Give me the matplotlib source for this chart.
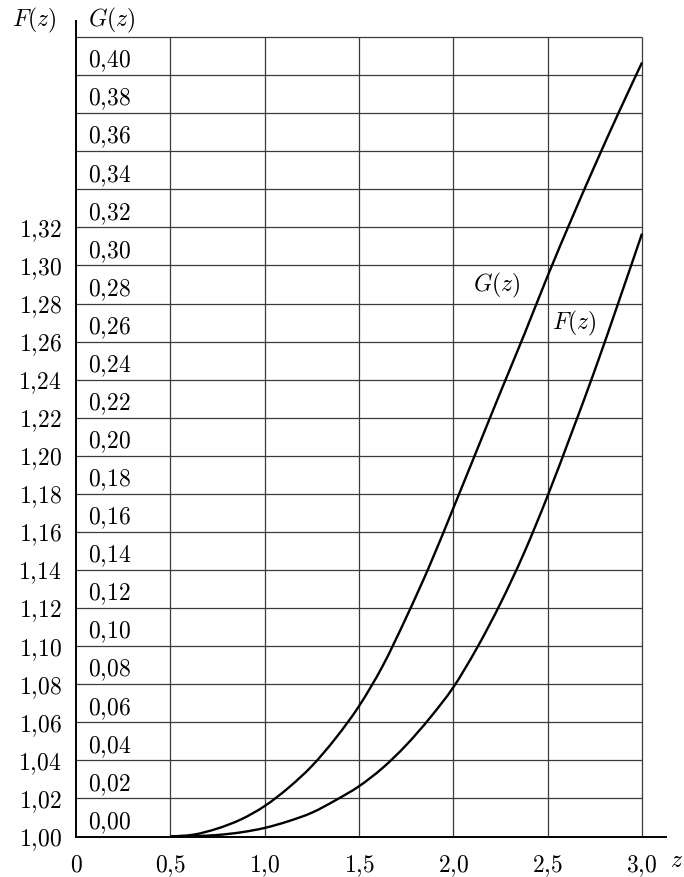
import matplotlib
matplotlib.use("Agg")
import matplotlib.pyplot as plt
from matplotlib.path import Path
from matplotlib.patches import PathPatch

plt.rcParams['mathtext.fontset'] = 'cm'
plt.rcParams['font.family'] = ['DejaVu Serif']

# ---- data ----
g_z = [0.5, 0.625, 0.75, 0.875, 1.0, 1.125, 1.25, 1.375, 1.5, 1.625, 1.75, 1.875,
       2.0, 2.125, 2.25, 2.375, 2.5, 2.625, 2.75, 2.875, 3.0]
g_val = [0.0, 0.001, 0.0042, 0.009, 0.016, 0.0255, 0.037, 0.0515, 0.0685, 0.0895,
         0.115, 0.1425, 0.1725, 0.2030, 0.2335, 0.2635, 0.2945, 0.324, 0.3525,
         0.380, 0.4066]

f_z = [0.5, 0.625, 0.75, 0.875, 1.0, 1.125, 1.25, 1.375, 1.5, 1.625, 1.75, 1.875,
       2.0, 2.125, 2.25, 2.375, 2.5, 2.625, 2.75, 2.875, 3.0]
f_val = [1.0, 1.0002, 1.0008, 1.0022, 1.0045, 1.008, 1.0125, 1.019, 1.0264, 1.036,
         1.048, 1.0622, 1.0784, 1.099, 1.1225, 1.149, 1.179, 1.2115, 1.245, 1.2805,
         1.3167]

z_ticks = [0, 0.5, 1.0, 1.5, 2.0, 2.5, 3.0]
z_labels = ['0', '0,5', '1,0', '1,5', '2,0', '2,5', '3,0']
g_ticks = [round(0.02 * i, 2) for i in range(21)]
g_labels = ['0,%02d' % int(round(v * 100)) for v in g_ticks]
f_ticks = [round(1.0 + 0.02 * i, 2) for i in range(17)]
f_labels = ['1,%02d' % int(round((v - 1) * 100)) for v in f_ticks]
grid_top = 0.42


def smooth_path(xs, ys):
    """Cubic Bezier path through the given points (Catmull-Rom tangents)."""
    pts = list(zip(xs, ys))
    n = len(pts)
    verts = [pts[0]]
    codes = [Path.MOVETO]
    for i in range(n - 1):
        p0 = pts[i - 1] if i > 0 else pts[i]
        p1 = pts[i]
        p2 = pts[i + 1]
        p3 = pts[i + 2] if i + 2 < n else pts[i + 1]
        c1 = (p1[0] + (p2[0] - p0[0]) / 6, p1[1] + (p2[1] - p0[1]) / 6)
        c2 = (p2[0] - (p3[0] - p1[0]) / 6, p2[1] - (p3[1] - p1[1]) / 6)
        verts += [c1, c2, p2]
        codes += [Path.CURVE4] * 3
    return Path(verts, codes)


# ---- figure ----
W, H = 684, 878
fig = plt.figure(figsize=(W / 100, H / 100), dpi=100)
x0, x1 = 76, 666
y0, y1 = 837.5, 22
ax = fig.add_axes([x0 / W, (H - y0) / H, (x1 - x0) / W, (y0 - y1) / H])
px_per_z = (642 - 76) / 3.0
px_per_g = (837.5 - 38) / 0.42
ax.set_xlim(0, (x1 - x0) / px_per_z)
ax.set_ylim(0, (y0 - y1) / px_per_g)
ax.set_xticks([])
ax.set_yticks([])
for s in ['top', 'right']:
    ax.spines[s].set_visible(False)
for s in ['left', 'bottom']:
    ax.spines[s].set_linewidth(1.4)
    ax.spines[s].set_color('black')

# grid
ax.hlines(g_ticks[1:] + [grid_top], 0, 3.0, colors='#3a3a3a', linewidth=0.9, zorder=1)
ax.vlines(z_ticks[1:], 0, grid_top, colors='#3a3a3a', linewidth=0.9, zorder=1)

# curves
ax.add_patch(PathPatch(smooth_path(g_z, g_val), fill=False, edgecolor='black',
                       linewidth=1.7, zorder=3, clip_on=False))
ax.add_patch(PathPatch(smooth_path(f_z, [v - 1.0 for v in f_val]), fill=False,
                       edgecolor='black', linewidth=1.7, zorder=3, clip_on=False))

fs = 17
def m(lab):
    return r'$%s$' % lab.replace(',', '{,}')

# G labels inside first column
for v, lab in zip(g_ticks, g_labels):
    ax.text(0.064, v + 0.0045, m(lab), fontsize=fs, ha='left', va='baseline')
# F labels left of axis
for v, lab in zip(f_ticks, f_labels):
    ax.text(-0.076, (v - 1.0) - 0.0045, m(lab), fontsize=fs,
            ha='right', va='baseline', clip_on=False)
# z labels
for v, lab in zip(z_ticks, z_labels):
    ax.text(v, -0.0181, m(lab), fontsize=fs, ha='center', va='baseline', clip_on=False)
ax.text(3.183, -0.0155, r'$z$', fontsize=fs, ha='center', va='baseline', clip_on=False)

# axis titles
ax.text(-0.34, 0.4263, r'$F(z)$', fontsize=fs, ha='left', va='baseline', clip_on=False)
ax.text(0.064, 0.4263, r'$G(z)$', fontsize=fs, ha='left', va='baseline', clip_on=False)

# curve labels
ax.text(2.103, 0.2867, r'$G(z)$', fontsize=fs, ha='left', va='baseline')
ax.text(2.521, 0.2667, r'$F(z)$', fontsize=fs, ha='left', va='baseline')

fig.savefig('out.png', dpi=100, facecolor='white')
